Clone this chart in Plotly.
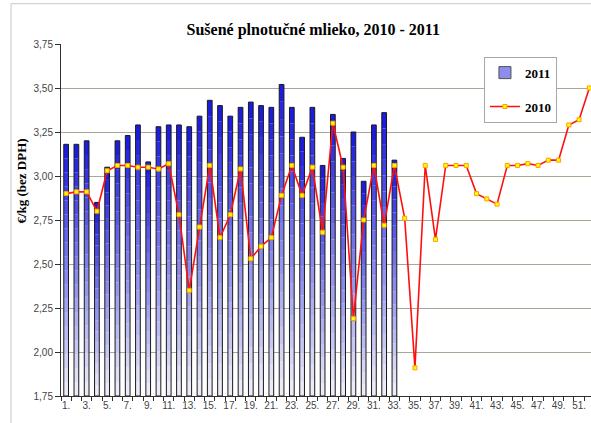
import plotly.graph_objects as go

weeks = list(range(1, 53))
tick_weeks = list(range(1, 52, 2))
tick_labels = [f"{w}." for w in tick_weeks]

# 2011 (bars), weeks 1-33
values_2011 = [3.18, 3.18, 3.20, 2.85, 3.05, 3.20, 3.23, 3.29, 3.08, 3.28,
               3.29, 3.29, 3.28, 3.34, 3.43, 3.40, 3.34, 3.39, 3.42, 3.40,
               3.39, 3.52, 3.39, 3.22, 3.39, 3.06, 3.35, 3.10, 3.25, 2.97,
               3.29, 3.36, 3.09]
# 2010 (line), weeks 1-52
values_2010 = [2.90, 2.91, 2.91, 2.80, 3.03, 3.06, 3.06, 3.05, 3.05, 3.04,
               3.07, 2.78, 2.35, 2.71, 3.06, 2.65, 2.78, 3.04, 2.53, 2.60,
               2.65, 2.89, 3.06, 2.89, 3.05, 2.68, 3.30, 3.05, 2.19, 2.75,
               3.06, 2.72, 3.06, 2.76, 1.91, 3.06, 2.64, 3.06, 3.06, 3.06,
               2.90, 2.87, 2.84, 3.06, 3.06, 3.07, 3.06, 3.09, 3.09, 3.29,
               3.32, 3.50]

Y_MIN, Y_MAX = 1.75, 3.75
bar_weeks = weeks[:len(values_2011)]

fig = go.Figure()

# legend entry for the bars
fig.add_trace(go.Bar(x=[None], y=[None], name="2011", legendgroup="a",
                     marker=dict(color="#8C8EEE", line=dict(color="#505050", width=1))))

# gradient bars built from stacked slices
N = 18
top = (28, 28, 225)
bot = (236, 236, 248)
for i in range(N):
    t = i / (N - 1)
    c = tuple(round(bot[k] + (top[k] - bot[k]) * t) for k in range(3))
    fig.add_trace(go.Bar(
        x=bar_weeks,
        y=[(v - Y_MIN) / N for v in values_2011],
        base=[Y_MIN + (v - Y_MIN) * i / N for v in values_2011],
        width=0.46, showlegend=False, hoverinfo="skip", legendgroup="a",
        marker=dict(color=f"rgb{c}", line=dict(width=0)),
    ))
# outline
fig.add_trace(go.Bar(
    x=bar_weeks, y=[v - Y_MIN for v in values_2011], base=Y_MIN,
    width=0.46, showlegend=False, name="2011", legendgroup="a",
    marker=dict(color="rgba(0,0,0,0)", line=dict(color="#1a1a1a", width=1)),
))

fig.add_trace(go.Scatter(
    x=weeks, y=values_2010, name="2010", mode="lines+markers", legendgroup="b",
    line=dict(color="#FF1010", width=1.6),
    marker=dict(symbol="square", size=4, color="#FFFF00",
                line=dict(color="#FFA000", width=1)),
))

fig.update_layout(
    width=591, height=423,
    margin=dict(l=61, r=0, t=44, b=27, autoexpand=False),
    paper_bgcolor="white", plot_bgcolor="white",
    barmode="overlay", separators=", ",
    title=dict(text="<b>Sušené plnotučné mlieko, 2010 - 2011</b>",
               x=0.53, xref="container", xanchor="center",
               y=0.931, yref="container", yanchor="middle",
               font=dict(family="Liberation Serif", size=16, color="black")),
    legend=dict(x=0.798, y=0.964, xanchor="left", yanchor="top",
                bgcolor="white", bordercolor="#A8A8A8", borderwidth=1,
                font=dict(family="Liberation Serif", size=13, color="black", weight="bold"),
                tracegroupgap=14, traceorder="grouped",
                itemwidth=30),
    showlegend=True,
    xaxis=dict(range=[0.5, 52.16], tickmode="array", tickvals=tick_weeks,
               ticktext=tick_labels, ticks="", showgrid=False, zeroline=False,
               showline=True, linecolor="#303030", linewidth=1,
               tickfont=dict(family="Liberation Sans", size=10, color="#444"),
               minor=dict(ticks="outside", tick0=0.5, dtick=1, ticklen=4,
                          tickcolor="#303030", showgrid=False)),
    yaxis=dict(range=[Y_MIN, Y_MAX], dtick=0.25, tick0=1.75, tickformat=".2f",
               showgrid=True, gridcolor="#A8A898", gridwidth=1, zeroline=False,
               showline=True, linecolor="#303030", linewidth=1,
               ticks="outside", ticklen=5, tickcolor="#303030",
               tickfont=dict(family="Liberation Sans", size=10, color="#444")),
    annotations=[dict(text="<b>€/kg (bez DPH)</b>", textangle=-90,
                      x=-0.0736, y=0.612, xref="paper", yref="paper",
                      xanchor="center", yanchor="middle", showarrow=False,
                      font=dict(family="Liberation Serif", size=13, color="black"))],
    shapes=[dict(type="rect", xref="paper", yref="paper",
                 x0=-0.0943, x1=1.2, y0=-0.3, y1=1.1145,
                 line=dict(color="#C8C8C8", width=1), layer="below")],
)

fig.write_html("out.html", config={"displayModeBar": False},
               post_script="document.body.style.margin='0';document.body.style.overflow='hidden';")
